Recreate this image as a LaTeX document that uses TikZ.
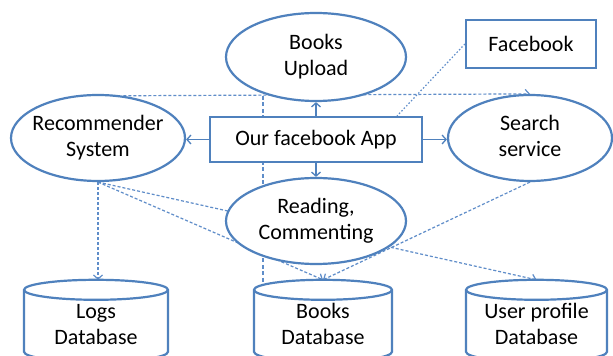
\documentclass[tikz,border=0pt]{standalone}
\usepackage{fontspec}
\setmainfont{Carlito}
\usetikzlibrary{shapes.geometric,arrows.meta,calc,backgrounds}
\definecolor{obl}{HTML}{4F81BD}
\definecolor{dbl}{HTML}{5F8DC9}
\newcommand{\ztext}[1]{\makebox[0pt]{\begin{tabular}{@{}c@{}}#1\end{tabular}}}
\newcommand{\dbdraw}[2]{%
 \draw[dbline] ($(#1.north)+(-#2pt,-10pt)$) -- ($(#1.north)+(-#2pt,-72pt)$)
   arc[start angle=180,end angle=360,x radius=#2pt,y radius=10pt]
   -- ($(#1.north)+(#2pt,-10pt)$)
   arc[start angle=0,end angle=180,x radius=#2pt,y radius=10pt] -- cycle;
 \draw[dbline,fill=none] ($(#1.north)+(-#2pt,-10pt)$)
   arc[start angle=180,end angle=360,x radius=#2pt,y radius=10pt];}
\begin{document}
\begin{tikzpicture}[x=1pt,y=1pt,font=\fontsize{22}{26}\selectfont,
  ell/.style={ellipse,draw=obl,line width=2.2pt,fill=white,inner sep=0pt},
  boxn/.style={rectangle,draw=obl,line width=2.2pt,fill=white,inner sep=0pt},
  dbtext/.style={rectangle,inner sep=0pt,minimum height=92pt},
  solidarrow/.style={draw=obl,line width=1.3pt,-{Straight Barb[length=4pt,width=9pt]}},
  dasharrow/.style={draw=dbl,line width=1.2pt,dash pattern=on 3pt off 2pt,-{Straight Barb[length=4pt,width=9pt]}},
  dashline/.style={draw=dbl,line width=1.2pt,dash pattern=on 4pt off 2.5pt},
  dotline/.style={draw=dbl,line width=1.2pt,dash pattern=on 1.5pt off 2pt},
  dbline/.style={draw=obl,line width=2.2pt,fill=white}]
\useasboundingbox (0,0) rectangle (613,356);

\node[ell,minimum width=180pt,minimum height=88pt] (upload) at (316,299) {\ztext{Books\\Upload}};
\node[ell,minimum width=174pt,minimum height=86pt] (rec) at (98,218) {\ztext{Recommender\\System}};
\node[ell,minimum width=164pt,minimum height=86pt] (search) at (530,218) {\ztext{Search\\service}};
\node[ell,minimum width=180pt,minimum height=86pt] (reading) at (316,135) {\ztext{Reading,\\Commenting}};
\node[boxn,minimum width=212pt,minimum height=45pt] (app) at (316,216.5) {Our facebook App};
\node[boxn,minimum width=130pt,minimum height=48pt] (fb) at (531,312) {Facebook};

\node[dbtext,minimum width=144pt] (logs) at (96,30) {\ztext{Logs\\Database}};
\node[dbtext,minimum width=138pt] (books) at (323,30) {\ztext{Books\\Database}};
\node[dbtext,minimum width=141pt] (user) at (536.5,30) {\ztext{User profile\\Database}};

\coordinate (jv) at (263,260);
\coordinate (bdtop) at ($(books.north)+(-60pt,-5pt)$);

\begin{pgfonlayer}{background}
\fill[white] (0,0) rectangle (613,356);
\draw[dasharrow] (rec.59) -- (search.north);
\draw[dashline] (jv) -- (jv |- bdtop);
\draw[dasharrow] (rec.south) -- (rec.south |- logs.north);
\draw[dasharrow] (rec.south) -- (books.north);
\draw[dasharrow] (rec.south) -- (user.north);
\draw[dasharrow] (search.south) -- (books.north);
\draw[dotline] (fb.west) -- ($(app.north east)+(-26pt,0pt)$);
\dbdraw{logs}{72}
\dbdraw{books}{69}
\dbdraw{user}{70.5}
\end{pgfonlayer}

\draw[solidarrow] (app.west) -- (app.west -| rec.east);
\draw[solidarrow] (app.east) -- (app.east -| search.west);
\draw[solidarrow] (app.north) -- (upload.south);
\draw[solidarrow] (app.south) -- (reading.north);
\end{tikzpicture}
\end{document}
